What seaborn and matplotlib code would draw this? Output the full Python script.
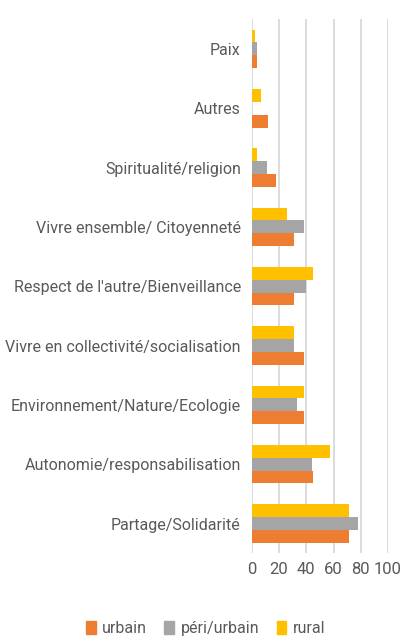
import pandas as pd
import seaborn as sns
import matplotlib.pyplot as plt
from matplotlib.patches import Patch

categories = ["Paix", "Autres", "Spiritualité/religion", "Vivre ensemble/ Citoyenneté",
              "Respect de l'autre/Bienveillance", "Vivre en collectivité/socialisation",
              "Environnement/Nature/Ecologie", "Autonomie/responsabilisation",
              "Partage/Solidarité"]
urbain = [4, 12, 18, 31, 31, 38, 38, 45, 71]
peri_urbain = [4, 0, 11, 38, 40, 31, 33, 44, 78]
rural = [2, 7, 4, 26, 45, 31, 38, 57, 71]
series = ["urbain", "péri/urbain", "rural"]
colors = {"urbain": "#ED7D31", "péri/urbain": "#A5A5A5", "rural": "#FFC000"}

df = pd.DataFrame({"categorie": categories, "urbain": urbain,
                   "péri/urbain": peri_urbain, "rural": rural})
long = df.melt(id_vars="categorie", var_name="zone", value_name="valeur")

sns.set_style("white")
plt.rcParams['font.family'] = ['Roboto', 'DejaVu Sans']

fig, ax = plt.subplots(figsize=(4.03, 6.41), dpi=100)
fig.subplots_adjust(left=0.625, right=0.963, top=0.97, bottom=0.137)

sns.barplot(data=long, y="categorie", x="valeur", hue="zone", order=categories,
            hue_order=["rural", "péri/urbain", "urbain"], palette=colors,
            width=0.65, dodge=True, gap=0, errorbar=None, legend=False, ax=ax,
            saturation=1, linewidth=0)

ax.set_xlim(0, 100)
ax.set_xticks(range(0, 101, 20))
ax.xaxis.grid(True, color="#D9D9D9", linewidth=1.3)
ax.set_axisbelow(True)
for s in ax.spines.values():
    s.set_visible(False)
ax.set_xlabel("")
ax.set_ylabel("")
ax.tick_params(axis="y", colors="#595959", labelsize=11.5, length=0, pad=8)
ax.tick_params(axis="x", colors="#595959", labelsize=12, length=0, pad=6)

handles = [Patch(color=colors[s], label=s) for s in series]
fig.legend(handles=handles, loc="lower center", ncol=3, frameon=False,
           bbox_to_anchor=(0.51, -0.015), fontsize=11.5, labelcolor="#595959",
           handlelength=0.6, handleheight=0.9, handletextpad=0.4, columnspacing=1.1)

plt.savefig("out.png", dpi=100)
